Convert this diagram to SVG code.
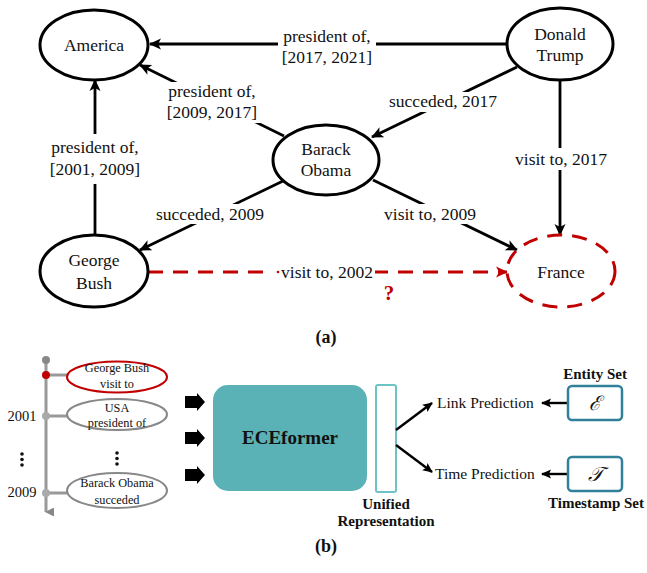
<svg xmlns="http://www.w3.org/2000/svg" width="647" height="573" viewBox="0 0 647 573">
<defs>
<style>
text{font-family:"Liberation Serif","Times New Roman",serif;fill:#111;}
.nt{font-size:17.5px;text-anchor:middle;}
.el{font-size:17.5px;text-anchor:middle;}
.node{fill:#fff;stroke:#000;stroke-width:3;}
.edge{stroke:#000;stroke-width:2.8;fill:none;}
.bg{fill:#fff;}
.tl{stroke:#999;stroke-width:3;fill:none;}
.ev{fill:#fff;stroke:#888;stroke-width:2;}
.st{font-size:12.3px;text-anchor:middle;}
.set{fill:#fff;stroke:#31809a;stroke-width:2.5;}
.lb{font-size:15px;font-weight:bold;text-anchor:middle;}
.pl{font-size:15.5px;}
</style>
<marker id="ah" markerWidth="12" markerHeight="12" refX="11" refY="6" orient="auto" markerUnits="userSpaceOnUse"><path d="M0,0.5 L12,6 L0,11.5 L3,6 Z" fill="#000"/></marker>
<marker id="ahr" markerWidth="12" markerHeight="12" refX="11" refY="6" orient="auto" markerUnits="userSpaceOnUse"><path d="M0,0.5 L12,6 L0,11.5 L3,6 Z" fill="#c00000"/></marker>
<marker id="ahs" markerWidth="10" markerHeight="10" refX="9" refY="5" orient="auto" markerUnits="userSpaceOnUse"><path d="M0,0.5 L10,5 L0,9.5 L2,5 Z" fill="#000"/></marker>
<marker id="ahg" markerWidth="9" markerHeight="9" refX="4.5" refY="8" orient="auto" markerUnits="userSpaceOnUse"><path d="M0,0 L9,0 L4.5,9 Z" fill="#888"/></marker>
</defs>
<g font-family="Liberation Serif">
<g id="connectors">
<line class="edge" x1="507" y1="44" x2="150" y2="44" marker-end="url(#ah)"/>
<line class="edge" x1="284" y1="136" x2="140" y2="65" marker-end="url(#ah)"/>
<line class="edge" x1="517" y1="67" x2="372" y2="137" marker-end="url(#ah)"/>
<line class="edge" x1="560" y1="80" x2="560" y2="235" marker-end="url(#ah)"/>
<line class="edge" x1="283" y1="181" x2="140" y2="250" marker-end="url(#ah)"/>
<line class="edge" x1="373" y1="180" x2="517" y2="250" marker-end="url(#ah)"/>
<line class="edge" x1="95" y1="235" x2="95" y2="80" marker-end="url(#ah)"/>
<line x1="148" y1="272" x2="507" y2="272" stroke="#c00000" stroke-width="2.8" stroke-dasharray="15,10" marker-end="url(#ahr)"/>
<rect class="bg" x="278" y="26" width="98" height="42"/>
<text class="el" x="327" y="42">president of,</text>
<text class="el" x="327" y="63">[2017, 2021]</text>
<rect class="bg" x="163" y="82" width="98" height="41"/>
<text class="el" x="212" y="97">president of,</text>
<text class="el" x="212" y="118">[2009, 2017]</text>
<rect class="bg" x="389" y="92" width="108" height="20"/>
<text class="el" x="443" y="107">succeded, 2017</text>
<rect class="bg" x="512" y="148" width="98" height="22"/>
<text class="el" x="561" y="165">visit to, 2017</text>
<rect class="bg" x="154" y="204" width="112" height="20"/>
<text class="el" x="210" y="220">succeded, 2009</text>
<rect class="bg" x="382" y="204" width="96" height="20"/>
<text class="el" x="430" y="220">visit to, 2009</text>
<rect class="bg" x="46" y="134" width="98" height="50"/>
<text class="el" x="95" y="153">president of,</text>
<text class="el" x="95" y="175">[2001, 2009]</text>
<rect class="bg" x="267" y="262" width="108" height="20"/>
<circle cx="278" cy="272" r="1.3" fill="#c00000"/>
<text class="el" x="327" y="278">visit to, 2002</text>
<text x="389" y="300" font-size="21" font-weight="bold" text-anchor="middle" style="fill:#c00000">?</text>
</g>

<g id="america"><ellipse class="node" cx="94" cy="45" rx="54" ry="35"/><text class="nt" x="94" y="51">America</text></g>
<g id="trump"><ellipse class="node" cx="560" cy="44" rx="53" ry="36"/><text class="nt" x="560" y="40">Donald</text><text class="nt" x="560" y="61">Trump</text></g>
<g id="obama"><ellipse class="node" cx="326" cy="160" rx="53" ry="35"/><text class="nt" x="326" y="155">Barack</text><text class="nt" x="326" y="176">Obama</text></g>
<g id="bush"><ellipse class="node" cx="94" cy="271" rx="54" ry="36"/><text class="nt" x="94" y="266">George</text><text class="nt" x="94" y="289">Bush</text></g>
<g id="france"><ellipse cx="561" cy="271" rx="54" ry="36" fill="#fff" stroke="#c00000" stroke-width="3" stroke-dasharray="15,10"/><text class="nt" x="561" y="278">France</text></g>

<text x="326" y="343" font-size="18" font-weight="bold" text-anchor="middle">(a)</text>

<g id="timeline">
<line class="tl" x1="46" y1="360" x2="46" y2="512" marker-end="url(#ahg)"/>
<circle cx="46" cy="360" r="4" fill="#888"/>
<line class="tl" x1="46" y1="375" x2="68" y2="375" stroke-width="2.5"/>
<line class="tl" x1="46" y1="416" x2="68" y2="416" stroke-width="2.5"/>
<line class="tl" x1="46" y1="493" x2="68" y2="493" stroke-width="2.5"/>
<circle cx="46" cy="375" r="4" fill="#c00000"/>
<circle cx="46" cy="416" r="4" fill="#aaa"/>
<circle cx="46" cy="493" r="4" fill="#aaa"/>
<text x="22" y="421" font-size="14.5" text-anchor="middle">2001</text>
<text x="22" y="497" font-size="14.5" text-anchor="middle">2009</text>
<circle cx="22" cy="454" r="1.8" fill="#111"/><circle cx="22" cy="459.5" r="1.8" fill="#111"/><circle cx="22" cy="465" r="1.8" fill="#111"/>
</g>
<g id="ev1"><ellipse cx="117" cy="377" rx="50" ry="15.5" fill="#fff" stroke="#c00000" stroke-width="2"/><text class="st" x="117" y="372">George Bush</text><text class="st" x="117" y="388">visit to</text></g>
<g id="ev2"><ellipse class="ev" cx="117" cy="414.5" rx="50" ry="15.5"/><text class="st" x="117" y="412">USA</text><text class="st" x="117" y="427">president of</text></g>
<g id="ev-dots"><circle cx="117" cy="453" r="1.8" fill="#111"/><circle cx="117" cy="458.5" r="1.8" fill="#111"/><circle cx="117" cy="464" r="1.8" fill="#111"/></g>
<g id="ev3"><ellipse class="ev" cx="117" cy="490.5" rx="50" ry="17.5"/><text class="st" x="117" y="487">Barack Obama</text><text class="st" x="117" y="504">succeded</text></g>

<g id="blockarrows" fill="#000">
<path d="M185,396 h12 v-3 l8,9 l-8,9 v-3 h-12 Z"/>
<path d="M185,432 h12 v-3 l8,9 l-8,9 v-3 h-12 Z"/>
<path d="M185,469 h12 v-3 l8,9 l-8,9 v-3 h-12 Z"/>
</g>

<g id="eceformer"><rect x="213" y="385" width="154" height="106" rx="15" fill="#5bb2b6"/><text x="290" y="444" font-size="19" font-weight="bold" text-anchor="middle">ECEformer</text></g>
<g id="unified"><rect x="376" y="385" width="20" height="107" rx="2" fill="#fff" stroke="#6cc3c6" stroke-width="2"/><text class="lb" x="386" y="509">Unified</text><text class="lb" x="386" y="526">Representation</text></g>

<g id="pred-connectors">
<line x1="396" y1="430" x2="432" y2="403" stroke="#000" stroke-width="2.4" marker-end="url(#ahs)"/>
<line x1="396" y1="445" x2="432" y2="472" stroke="#000" stroke-width="2.4" marker-end="url(#ahs)"/>
<line x1="568" y1="403" x2="542" y2="403" stroke="#000" stroke-width="2.4" marker-end="url(#ahs)"/>
<line x1="568" y1="474" x2="542" y2="474" stroke="#000" stroke-width="2.4" marker-end="url(#ahs)"/>
</g>
<g id="link"><text class="pl" x="437" y="408">Link Prediction</text></g>
<g id="time"><text class="pl" x="435" y="479">Time Prediction</text></g>
<g id="entity"><rect class="set" x="568" y="386" width="54" height="34" rx="4"/><text x="595" y="410" font-size="20" font-style="italic" text-anchor="middle">ℰ</text><text class="lb" x="595" y="379">Entity Set</text></g>
<g id="timestamp"><rect class="set" x="568" y="457" width="54" height="34" rx="4"/><text x="595" y="481" font-size="20" font-style="italic" text-anchor="middle">𝒯</text><text class="lb" x="596" y="508">Timestamp Set</text></g>

<text x="326" y="552" font-size="18" font-weight="bold" text-anchor="middle">(b)</text>
</g>
</svg>
